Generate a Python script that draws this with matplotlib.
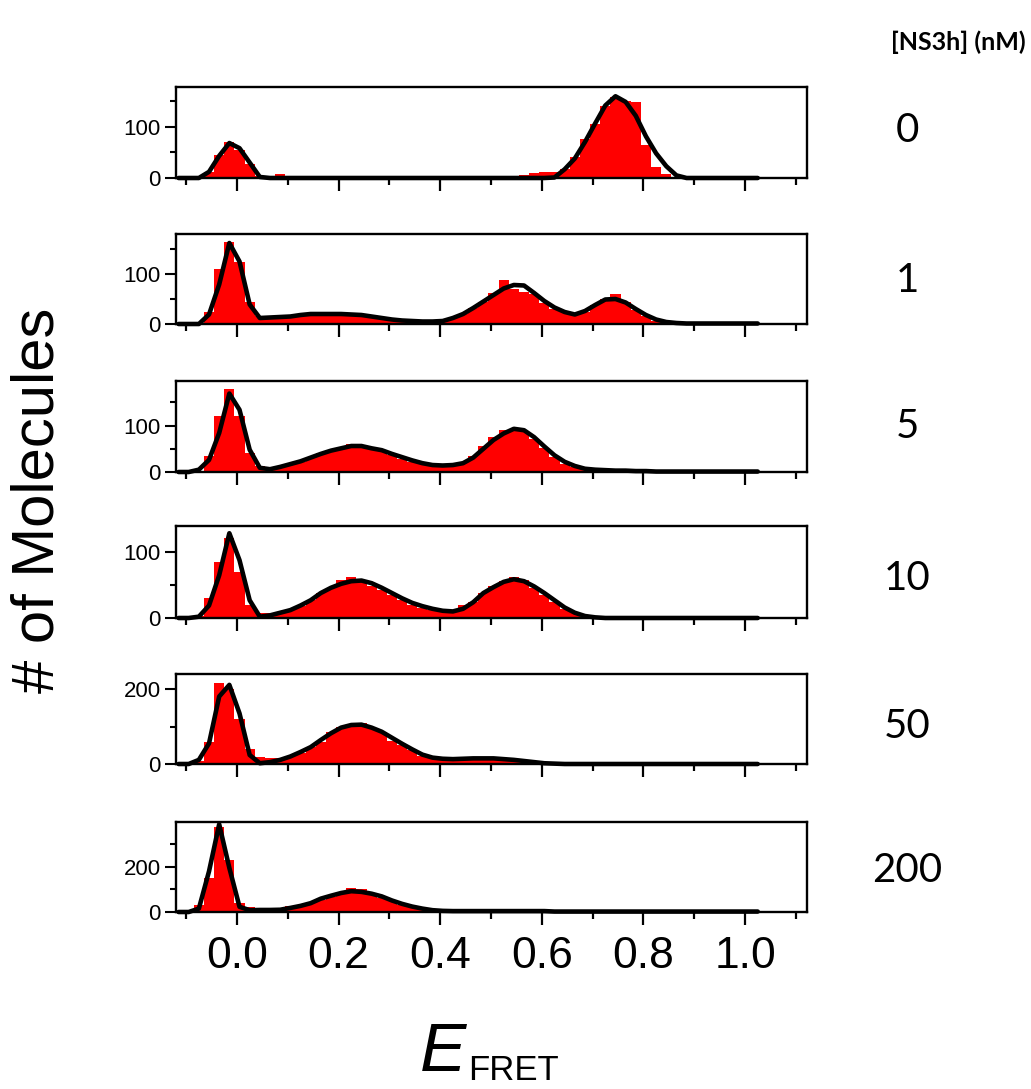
import numpy as np
import matplotlib
matplotlib.use("Agg")
import matplotlib.pyplot as plt
from matplotlib.ticker import MultipleLocator

plt.rcParams['font.family'] = ['Liberation Sans', 'DejaVu Sans']

# ---------------- data ----------------
concentrations = ["0", "1", "5", "10", "50", "200"]
bin_width = 0.02
# bin centres: -0.115, -0.095, ..., 1.025 (58 bins)
e_centers = np.round(-0.115 + bin_width * np.arange(58), 3)

hist_0 = [0, 0, 0, 12, 45, 70, 55, 27, 3, 0,
          7, 0, 0, 0, 0, 0, 0, 0, 0, 0,
          0, 0, 0, 0, 0, 0, 0, 0, 0, 0,
          0, 0, 0, 0, 6, 10, 12, 12, 18, 40,
          75, 105, 140, 158, 150, 148, 65, 22, 8, 0,
          0, 0, 0, 0, 0, 0, 0, 0]
fit_0 = [0, 0, 0, 12, 43, 68, 58, 30, 2, 0,
         0, 0, 0, 0, 0, 0, 0, 0, 0, 0,
         0, 0, 0, 0, 0, 0, 0, 0, 0, 0,
         0, 0, 0, 0, 0, 0, 0, 1, 17, 38,
         70, 106, 141, 159, 148, 121, 81, 48, 23, 5,
         0, 0, 0, 0, 0, 0, 0, 0]

hist_1 = [0, 0, 0, 25, 110, 165, 125, 45, 16, 14,
          15, 17, 18, 23, 19, 20, 22, 18, 17, 17,
          12, 9, 8, 6, 5, 5, 7, 14, 20, 33,
          44, 62, 88, 70, 64, 60, 42, 30, 25, 20,
          25, 38, 50, 60, 45, 28, 17, 7, 2, 0,
          0, 0, 0, 0, 0, 0, 0, 0]
fit_1 = [0, 0, 0, 19, 79, 162, 125, 39, 12, 13,
         14, 15, 18, 20, 20, 20, 20, 19, 18, 15,
         12, 9, 7, 6, 5, 5, 6, 12, 20, 32,
         45, 58, 71, 78, 77, 62, 46, 33, 24, 19,
         26, 38, 49, 50, 43, 30, 18, 9, 4, 2,
         1, 1, 1, 1, 1, 1, 1, 1]

hist_5 = [0, 0, 3, 35, 120, 178, 120, 40, 12, 10,
          13, 17, 22, 30, 40, 45, 52, 60, 55, 52,
          45, 36, 28, 22, 17, 13, 14, 16, 22, 35,
          55, 75, 90, 92, 88, 72, 52, 32, 18, 10,
          8, 6, 5, 4, 3, 2, 2, 1, 1, 0,
          0, 0, 0, 0, 0, 0, 0, 0]
fit_5 = [0, 0, 5, 26, 84, 169, 134, 48, 9, 6,
         11, 17, 23, 31, 39, 46, 51, 56, 56, 51,
         47, 39, 32, 25, 19, 15, 14, 15, 19, 31,
         50, 69, 83, 93, 90, 75, 55, 36, 22, 13,
         7, 5, 4, 3, 3, 2, 2, 1, 1, 1,
         1, 1, 1, 1, 1, 1, 1, 1]

hist_10 = [0, 0, 3, 30, 85, 122, 70, 20, 8, 8,
           9, 12, 18, 28, 38, 45, 58, 62, 58, 48,
           42, 35, 27, 20, 15, 12, 11, 12, 20, 25,
           38, 48, 56, 62, 58, 45, 35, 24, 14, 7,
           2, 0, 0, 0, 0, 0, 0, 0, 0, 0,
           0, 0, 0, 0, 0, 0, 0, 0]
fit_10 = [0, 0, 2, 19, 65, 129, 88, 27, 2, 4,
          8, 12, 19, 27, 38, 46, 52, 56, 57, 53,
          46, 38, 30, 23, 18, 14, 11, 10, 14, 24,
          38, 47, 55, 59, 56, 48, 38, 27, 16, 8,
          3, 1, 0, 0, 0, 0, 0, 0, 0, 0,
          0, 0, 0, 0, 0, 0, 0, 0]

hist_50 = [0, 0, 8, 60, 215, 200, 120, 40, 20, 15,
           15, 22, 30, 45, 60, 85, 100, 100, 110, 95,
           85, 62, 52, 38, 22, 15, 12, 12, 12, 15,
           18, 15, 12, 8, 12, 4, 2, 0, 0, 0,
           0, 0, 0, 0, 0, 0, 0, 0, 0, 0,
           0, 0, 0, 0, 0, 0, 0, 0]
fit_50 = [0, 0, 11, 55, 180, 211, 135, 24, 2, 5,
          11, 20, 32, 45, 64, 82, 97, 104, 105, 97,
          86, 70, 54, 39, 25, 17, 14, 13, 14, 15,
          15, 15, 13, 11, 8, 5, 2, 1, 0, 0,
          0, 0, 0, 0, 0, 0, 0, 0, 0, 0,
          0, 0, 0, 0, 0, 0, 0, 0]

hist_200 = [0, 0, 30, 150, 375, 230, 40, 20, 12, 14,
            18, 25, 30, 40, 52, 65, 85, 108, 100, 80,
            62, 48, 32, 20, 12, 6, 4, 2, 2, 2,
            2, 2, 2, 2, 2, 2, 2, 0, 0, 0,
            0, 0, 0, 0, 0, 0, 0, 0, 0, 0,
            0, 0, 0, 0, 0, 0, 0, 0]
fit_200 = [0, 0, 15, 180, 388, 195, 23, 8, 9, 9,
           10, 18, 27, 39, 59, 72, 84, 92, 89, 81,
           69, 51, 36, 24, 15, 8, 5, 4, 4, 4,
           4, 4, 4, 4, 4, 4, 4, 2, 2, 2,
           2, 2, 2, 2, 2, 2, 2, 2, 2, 2,
           2, 2, 2, 2, 2, 2, 2, 2]

hists = [hist_0, hist_1, hist_5, hist_10, hist_50, hist_200]
fits = [fit_0, fit_1, fit_5, fit_10, fit_50, fit_200]
ymax = [177, 180, 196, 140, 240, 398]
ymajor = [100, 100, 100, 100, 200, 200]
yminor = [50, 50, 50, 50, 100, 100]
xticks_major = [0.0, 0.2, 0.4, 0.6, 0.8, 1.0]
xtick_labels = ["0.0", "0.2", "0.4", "0.6", "0.8", "1.0"]

# ---------------- layout (pixel geometry) ----------------
W, H = 1031, 1089
fig = plt.figure(figsize=(W / 100, H / 100), dpi=100)
panel_px = [(87, 178), (234, 324), (381, 472), (526, 618), (674, 764), (822, 912)]
label_y_px = [130, 280, 426, 578, 726, 870]
left_px, right_px = 176, 807

for i in range(6):
    top, bot = panel_px[i]
    ax = fig.add_axes([left_px / W, (H - bot) / H, (right_px - left_px) / W, (bot - top) / H])
    ax.bar(e_centers, hists[i], width=bin_width, color='#ff0000', linewidth=0, zorder=1)
    ax.plot(e_centers, fits[i], color='black', lw=3.3, zorder=3, clip_on=False,
            solid_joinstyle='round', solid_capstyle='round')
    ax.set_xlim(-0.12, 1.122)
    ax.set_ylim(0, ymax[i])
    for s in ax.spines.values():
        s.set_linewidth(1.7)
    ax.set_xticks(xticks_major)
    ax.xaxis.set_minor_locator(MultipleLocator(0.1))
    ax.yaxis.set_major_locator(MultipleLocator(ymajor[i]))
    ax.yaxis.set_minor_locator(MultipleLocator(yminor[i]))
    ax.tick_params(axis='x', which='major', direction='out', length=9.5, width=1.6,
                   top=False, pad=8, labelsize=32)
    ax.tick_params(axis='x', which='minor', direction='out', length=5, width=1.6, top=False)
    ax.tick_params(axis='y', which='major', direction='out', length=8, width=1.5,
                   right=False, pad=3, labelsize=16)
    ax.tick_params(axis='y', which='minor', direction='out', length=4.5, width=1.5, right=False)
    if i == 5:
        ax.set_xticklabels(xtick_labels)
    else:
        ax.set_xticklabels([])
    fig.text(907 / W, (H - label_y_px[i]) / H, concentrations[i], ha='center', va='center',
             fontsize=29, family=['Lato', 'DejaVu Sans'])

fig.text(958 / W, (H - 42) / H, "[NS3h] (nM)", ha='center', va='center',
         fontsize=18, family=['Lato', 'DejaVu Sans'], fontweight='bold')

fig.text(38 / W, (H - 500) / H, "# of Molecules", rotation=90, ha='center', va='center',
         fontsize=43)

fig.text(420 / W, (H - 1071) / H, "E", style='italic', fontsize=50, ha='left', va='baseline')
fig.text(468 / W, (H - 1080) / H, "FRET", fontsize=25, ha='left', va='baseline')

fig.savefig("out.png", dpi=100)
